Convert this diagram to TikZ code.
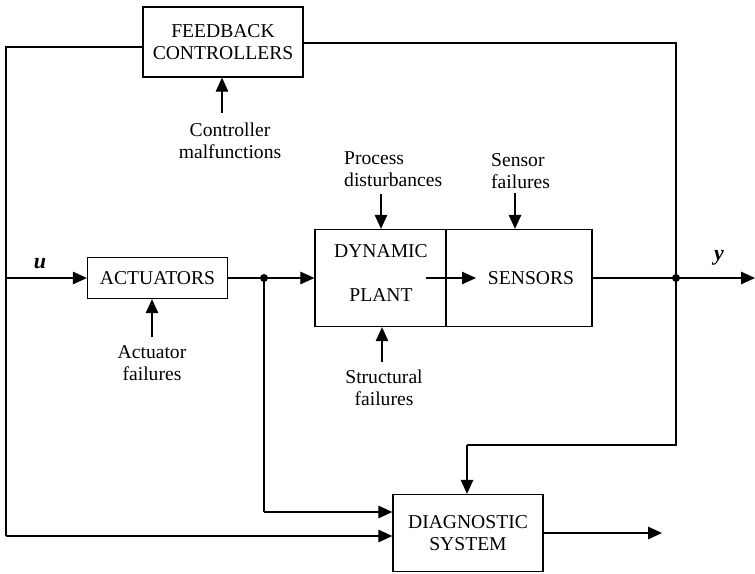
\documentclass[tikz,border=0pt]{standalone}
\usepackage{fontspec}
\setmainfont{Liberation Serif}
\usetikzlibrary{arrows.meta,calc}
\tikzset{
  txt/.style={font=\fontsize{19.6}{21.5}\selectfont, inner sep=0pt, align=center},
  blk/.style={draw, line width=1.3pt, inner sep=0pt, font=\fontsize{19.6}{22.5}\selectfont, align=center},
  ln/.style={line width=1.2pt},
  arr/.style={line width=1.2pt, -{Triangle[length=14pt,width=12.5pt]}},
  jdot/.style={circle, fill=black, inner sep=0pt, minimum size=8pt},
}
\begin{document}
\begin{tikzpicture}[x=1pt,y=-1pt]
\useasboundingbox (0,0) rectangle (755,573);
% blocks
\node[blk, minimum width=160pt, minimum height=70pt] (fb) at (223,42) {FEEDBACK\\CONTROLLERS};
\node[blk, minimum width=140pt, minimum height=41pt] (act) at (157.5,278) {ACTUATORS};
\node[blk, minimum width=131pt, minimum height=97pt] (dyn) at (380.5,278) {};
\node[blk, minimum width=146pt, minimum height=97pt] (sen) at (519,278) {};
\node[blk, minimum width=150pt, minimum height=77pt] (diag) at (468,533) {DIAGNOSTIC\\SYSTEM};
\node[txt] (dyn1) at (381,251) {DYNAMIC};
\node[txt] (dyn2) at (381,295) {PLANT};
\node[txt] (sentxt) at (531,278) {SENSORS};
% labels
\node[txt] (cmal) at (230,141) {Controller\\malfunctions};
\node[txt] (afail) at (152,363) {Actuator\\failures};
\node[txt, anchor=west, align=left] (pdist) at (344,169) {Process\\disturbances};
\node[txt, anchor=west, align=left] (sfail) at (491,171) {Sensor\\failures};
\node[txt] (stfail) at (384,388) {Structural\\failures};
\node[txt, font=\fontsize{22}{22}\selectfont\bfseries\itshape] (ulab) at (40,264) {u};
\node[txt, font=\fontsize{22}{22}\selectfont\bfseries\itshape] (ylab) at (719,258) {y};
% fault arrows
\coordinate (cm) at (222,113);
\draw[arr] (cm) -- (cm |- fb.south);
\coordinate (af) at (152,337);
\draw[arr] (af) -- (af |- act.south);
\coordinate (pd) at (381,194);
\draw[arr] (pd) -- (pd |- dyn.north);
\coordinate (sf) at (515,193);
\draw[arr] (sf) -- (sf |- sen.north);
\coordinate (st) at (382,362);
\draw[arr] (st) -- (st |- dyn.south);
% main path
\coordinate (uin) at (6,278);
\draw[arr] (uin) -- (act.west);
\node[jdot] (d1) at (264,278) {};
\draw[ln] (act.east) -- (d1.center);
\draw[arr] (d1.center) -- (dyn.west);
\coordinate (ia) at (426,278);
\coordinate (ib) at (476,278);
\draw[arr] (ia) -- (ib);
\node[jdot] (d2) at (676,278) {};
\coordinate (yout) at (755,278);
\draw[ln] (sen.east) -- (d2.center);
\draw[arr] (d2.center) -- (yout);
% feedback loop left
\coordinate (L1) at (6,47);
\coordinate (L2) at (6,536);
\draw[ln] (fb.west |- L1) -- (L1) -- (L2);
\draw[arr] (L2) -- (L2 -| diag.west);
% feedback loop right
\coordinate (R1) at (676,43);
\coordinate (R2) at (676,445);
\coordinate (R3) at (467,445);
\draw[ln] (fb.east |- R1) -- (R1) -- (R2) -- (R3);
\draw[arr] (R3) -- (R3 |- diag.north);
% actuator branch to diagnosis
\coordinate (B1) at (264,512);
\draw[ln] (d1.center) -- (B1);
\draw[arr] (B1) -- (B1 -| diag.west);
% output
\coordinate (dout) at (662,533);
\draw[arr] (diag.east) -- (dout);
\end{tikzpicture}
\end{document}
